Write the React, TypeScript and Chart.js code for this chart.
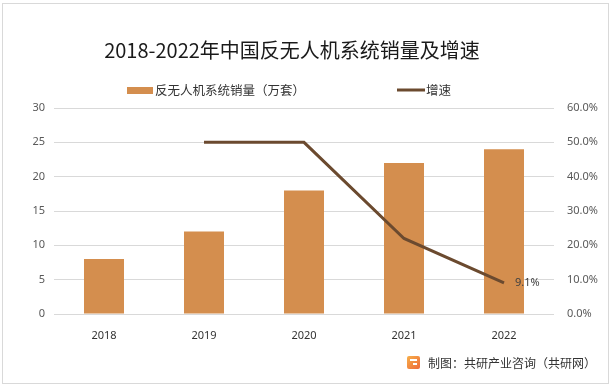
import React, { useEffect, useRef } from "react";
import { Chart, registerables } from "chart.js";

Chart.register(...registerables);

const categories = ["2018", "2019", "2020", "2021", "2022"];
const salesValues = [8, 12, 18, 22, 24];
const growthValues: (number | null)[] = [null, 50, 50, 22, 9.1];
const leftTicks = [0, 5, 10, 15, 20, 25, 30];
const rightTicks = [0, 10, 20, 30, 40, 50, 60];
const titleText = "2018-2022年中国反无人机系统销量及增速";
const barLabel = "反无人机系统销量（万套）";
const lineLabel = "增速";
const footerText = "制图：共研产业咨询（共研网）";

const BAR_COLOR = "#D48E4E";
const LINE_COLOR = "#6B4A2F";
const CJK = '"Noto Sans CJK SC", "Noto Sans", sans-serif';

const decorPlugin = {
  id: "decor",
  afterDraw(chart: any) {
    const ctx = chart.ctx as CanvasRenderingContext2D;
    ctx.save();
    // border
    ctx.strokeStyle = "#d9d9d9";
    ctx.lineWidth = 1;
    ctx.strokeRect(2.5, 3.5, 606, 380);
    // title
    ctx.fillStyle = "#1a1a1a";
    ctx.font = `20px ${CJK}`;
    ctx.textAlign = "center";
    ctx.textBaseline = "middle";
    ctx.fillText(titleText, 292, 50);
    // legend
    ctx.font = `12.5px ${CJK}`;
    ctx.textAlign = "left";
    ctx.fillStyle = BAR_COLOR;
    ctx.fillRect(127, 87, 26, 7);
    ctx.fillStyle = "#333";
    ctx.fillText(barLabel, 155, 90);
    ctx.strokeStyle = LINE_COLOR;
    ctx.lineWidth = 3;
    ctx.beginPath();
    ctx.moveTo(397, 90);
    ctx.lineTo(425, 90);
    ctx.stroke();
    ctx.fillText(lineLabel, 426, 90);
    // data label on last line point
    const meta = chart.getDatasetMeta(1);
    const last = meta.data[meta.data.length - 1];
    const v = growthValues[growthValues.length - 1];
    if (last && v != null) {
      ctx.font = '11px "Noto Sans", sans-serif';
      ctx.fillStyle = "#404040";
      ctx.fillText(v.toFixed(1) + "%", last.x + 11, last.y);
    }
    // footer icon
    const g = ctx.createLinearGradient(407, 355, 420, 369);
    g.addColorStop(0, "#F7B24A");
    g.addColorStop(1, "#EE6A3A");
    ctx.fillStyle = g;
    ctx.beginPath();
    (ctx as any).roundRect ? (ctx as any).roundRect(407, 356, 13, 13, 2) : ctx.rect(407, 356, 13, 13);
    ctx.fill();
    ctx.fillStyle = "#fff";
    ctx.fillRect(410, 359, 7, 2);
    ctx.fillRect(413, 363, 4, 2);
    // footer text
    ctx.font = `12px ${CJK}`;
    ctx.fillStyle = "#333";
    ctx.textAlign = "left";
    ctx.fillText(footerText, 428, 363);
    ctx.restore();
  },
};

export default function App() {
  const ref = useRef<HTMLCanvasElement | null>(null);
  useEffect(() => {
    document.body.style.margin = "0";
    const canvas = ref.current!;
    const chart = new Chart(canvas, {
      type: "bar",
      data: {
        labels: categories,
        datasets: [
          {
            type: "bar",
            label: barLabel,
            data: salesValues,
            backgroundColor: BAR_COLOR,
            categoryPercentage: 1,
            barPercentage: 0.4,
            yAxisID: "y",
            order: 2,
          },
          {
            type: "line",
            label: lineLabel,
            data: growthValues,
            borderColor: LINE_COLOR,
            backgroundColor: LINE_COLOR,
            borderWidth: 3,
            pointRadius: 0,
            tension: 0,
            yAxisID: "y1",
            order: 1,
          } as any,
        ],
      },
      options: {
        responsive: false,
        animation: false,
        devicePixelRatio: 1,
        layout: { padding: { top: 108, left: 0, right: 0, bottom: 0 } },
        plugins: {
          legend: { display: false },
          title: { display: false },
          tooltip: { enabled: false },
        },
        scales: {
          x: {
            grid: { display: false },
            border: { display: false },
            ticks: {
              color: "#333",
              font: { size: 11, family: '"Noto Sans", sans-serif' },
              padding: 7,
              maxRotation: 0,
            },
            afterFit(scale: any) {
              scale.height = 74;
            },
          },
          y: {
            position: "left",
            min: 0,
            max: 30,
            afterBuildTicks(scale: any) {
              scale.ticks = leftTicks.map((v) => ({ value: v }));
            },
            grid: { color: "#d9d9d9", drawTicks: false },
            border: { display: false },
            ticks: {
              color: "#595959",
              font: { size: 11, family: '"Noto Sans", sans-serif' },
              padding: 9,
            },
            afterFit(scale: any) {
              scale.width = 54;
            },
          },
          y1: {
            position: "right",
            min: 0,
            max: 60,
            afterBuildTicks(scale: any) {
              scale.ticks = rightTicks.map((v) => ({ value: v }));
            },
            grid: { display: false, drawTicks: false },
            border: { display: false },
            ticks: {
              color: "#595959",
              font: { size: 11, family: '"Noto Sans", sans-serif' },
              padding: 13,
              callback: (v: any) => Number(v).toFixed(1) + "%",
            },
            afterFit(scale: any) {
              scale.width = 59;
            },
          },
        },
      },
      plugins: [decorPlugin],
    });
    return () => chart.destroy();
  }, []);
  return (
    <div style={{ width: 613, height: 388, background: "#fff" }}>
      <canvas ref={ref} width={613} height={388} style={{ display: "block" }} />
    </div>
  );
}
